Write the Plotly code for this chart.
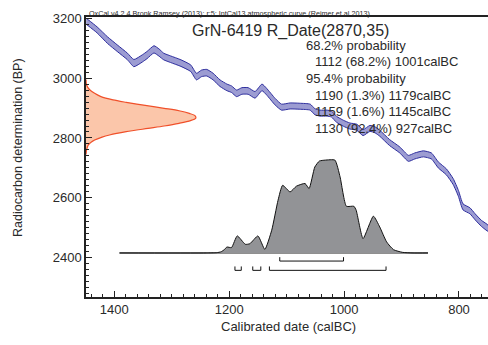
import plotly.graph_objects as go

# ---------------- data ----------------
# IntCal13 curve: calendar year BC, BP, 1-sigma
curve_years = [1449, 1430, 1412, 1395, 1377, 1366, 1351, 1343, 1331, 1322, 1314, 1302, 1284,
               1267, 1257, 1248, 1239, 1228, 1216, 1204, 1196, 1187, 1178, 1167, 1155, 1143,
               1135, 1120, 1109, 1094, 1077, 1059, 1051, 1042, 1030, 1022, 1013, 1001, 990,
               978, 967, 955, 946, 938, 921, 903, 888, 877, 862, 848, 836, 822, 810, 801,
               793, 781, 772, 761, 749]
curve_bp = [3190, 3161, 3127, 3100, 3072, 3050, 3066, 3077, 3096, 3085, 3072, 3063, 3050,
            3033, 3005, 3016, 3018, 3005, 2983, 2969, 2963, 2949, 2957, 2957, 2944, 2969,
            2955, 2921, 2903, 2907, 2906, 2903, 2888, 2883, 2883, 2880, 2862, 2849, 2840,
            2836, 2818, 2832, 2827, 2816, 2785, 2760, 2732, 2740, 2747, 2740, 2710, 2687,
            2654, 2615, 2570, 2557, 2537, 2515, 2498]
curve_sigma = [10, 10, 11, 11, 11, 12, 12, 12, 12, 12, 11, 11, 11,
               11, 11, 11, 11, 11, 11, 11, 11, 11, 11, 11, 11, 11,
               11, 11, 10, 10, 10, 10, 10, 10, 10, 10, 10, 10, 10,
               10, 10, 10, 10, 10, 10, 10, 10, 10, 10, 10, 10, 10,
               10, 10, 10, 10, 10, 10, 10]

# Radiocarbon measurement distribution (BP vs relative width in years)
rdate_bp = [2745, 2760, 2777, 2793, 2803, 2810, 2821, 2832, 2840, 2849, 2858, 2866,
            2874, 2882, 2891, 2899, 2908, 2919, 2927, 2938, 2949, 2962, 2977, 2995]
rdate_w = [0, 1, 4, 15, 28, 41, 70, 108, 136, 162, 182, 191,
           190, 180, 162, 136, 106, 70, 47, 26, 15, 6, 1, 0]

# Calibrated probability distribution (year BC vs height)
cal_years = [1391, 1240, 1222, 1214, 1208, 1204, 1196, 1186, 1172, 1164, 1150, 1138, 1126,
             1115, 1107, 1094, 1083, 1068, 1061, 1051, 1043, 1033, 1016, 1007, 996, 983,
             979, 967, 949, 938, 926, 914, 898, 880, 854]
cal_prob = [0, 0, 1, 4, 12, 20, 18, 57, 29, 31, 57, 12, 76,
            176, 226, 204, 223, 232, 215, 287, 307, 310, 310, 254, 156, 156,
            143, 48, 123, 87, 37, 11, 2, 0, 0]
cal_base = 2416

# Ranges
range68 = [(1112, 1001)]
range95 = [(1190, 1179), (1159, 1145), (1130, 927)]

title_text = "GrN-6419 R_Date(2870,35)"
header_text = "OxCal v4.2.4 Bronk Ramsey (2013); r:5; IntCal13 atmospheric curve (Reimer et al 2013)"
prob_lines = ["68.2% probability", "1112 (68.2%) 1001calBC", "95.4% probability",
              "1190 (1.3%) 1179calBC", "1159 (1.6%) 1145calBC", "1130 (92.4%) 927calBC"]

x_ticks = [1400, 1200, 1000, 800]
y_ticks = [2400, 2600, 2800, 3000, 3200]

# ---------------- figure ----------------
X0, X1 = 1449.3, 749.5
Y0, Y1 = 2269, 3204
FONT = "Liberation Sans, Arial, sans-serif"
TXT = "#2a2a2a"

fig = go.Figure()

# calibration curve band
upper = [b + s for b, s in zip(curve_bp, curve_sigma)]
lower = [b - s for b, s in zip(curve_bp, curve_sigma)]
fig.add_trace(go.Scatter(
    x=curve_years + curve_years[::-1], y=upper + lower[::-1],
    fill="toself", fillcolor="#9c9cd2", mode="lines",
    line=dict(color="#2e2e9e", width=1, shape="spline", smoothing=0.5),
    hoverinfo="skip", showlegend=False))

# radiocarbon date distribution on y axis
fig.add_trace(go.Scatter(
    x=[X0 - w for w in rdate_w], y=rdate_bp,
    fill="toself", fillcolor="#fbc6aa", mode="lines",
    line=dict(color="#f0502a", width=1.2, shape="spline", smoothing=0.8),
    hoverinfo="skip", showlegend=False))

# calibrated distribution
fig.add_trace(go.Scatter(
    x=[cal_years[0], cal_years[-1]], y=[cal_base, cal_base], mode="lines",
    line=dict(color="#111", width=1), hoverinfo="skip", showlegend=False))
fig.add_trace(go.Scatter(
    x=cal_years, y=[cal_base + p for p in cal_prob],
    fill="toself", fillcolor="#929396", mode="lines",
    line=dict(color="#111", width=1, shape="spline", smoothing=0.5),
    hoverinfo="skip", showlegend=False))

# range brackets
def brackets(ranges, top, bot):
    xs, ys = [], []
    for a, b in ranges:
        xs += [a, a, b, b, None]
        ys += [top, bot, bot, top, None]
    return xs, ys

bx, by = brackets(range68, 2402, 2389)
fig.add_trace(go.Scatter(x=bx, y=by, mode="lines", line=dict(color="#111", width=1),
                         hoverinfo="skip", showlegend=False))
bx, by = brackets(range95, 2371, 2358)
fig.add_trace(go.Scatter(x=bx, y=by, mode="lines", line=dict(color="#111", width=1),
                         hoverinfo="skip", showlegend=False))

W, H = 488, 345
L, R, T, B = 86, 0, 17, 48
pw, ph = W - L - R, H - T - B

def px(xp):
    return (xp - L) / pw

def py(yp):
    return (H - B - yp) / ph

ann = []
ann.append(dict(text=header_text, x=px(87), y=py(13), font=dict(size=7.2, color=TXT)))
ann.append(dict(text=title_text, x=px(190), y=py(30.5), font=dict(size=16, color=TXT)))
lx = [304, 313, 304, 313, 313, 313]
ly = [45.5, 61.8, 78.4, 95, 111.5, 128]
for t, xx, yy in zip(prob_lines, lx, ly):
    ann.append(dict(text=t, x=px(xx), y=py(yy), font=dict(size=13, color=TXT)))
for a in ann:
    a.update(xref="paper", yref="paper", xanchor="left", yanchor="middle", showarrow=False)
ann.append(dict(text="Calibrated date (calBC)", x=px(288), y=py(326), xref="paper", yref="paper",
                xanchor="center", yanchor="middle", showarrow=False, font=dict(size=13, color=TXT)))
ann.append(dict(text="Radiocarbon determination (BP)", x=px(18), y=py(148), xref="paper", yref="paper",
                xanchor="center", yanchor="middle", showarrow=False, textangle=-90,
                font=dict(size=12.5, color=TXT)))

axis_common = dict(showgrid=False, zeroline=False, showline=True, linecolor="#222", linewidth=1.5,
                   ticks="inside", ticklen=6, tickwidth=1.2, tickcolor="#222", automargin=False,
                   tickfont=dict(size=13, color=TXT, family=FONT),
                   minor=dict(ticks="inside", ticklen=3, tickwidth=1, tickcolor="#222", dtick=20))

fig.update_layout(
    width=W, height=H, margin=dict(l=L, r=R, t=T, b=B, pad=0, autoexpand=False),
    paper_bgcolor="white", plot_bgcolor="white",
    font=dict(family=FONT, color=TXT),
    xaxis=dict(range=[X0, X1], tickvals=x_ticks, mirror=True, **axis_common),
    yaxis=dict(range=[Y0, Y1], tickvals=y_ticks, mirror=False, **axis_common),
    annotations=ann, showlegend=False)

fig.write_html("out.html", config={"displayModeBar": False},
               post_script="document.body.style.margin='0px';document.body.style.padding='0px';")
